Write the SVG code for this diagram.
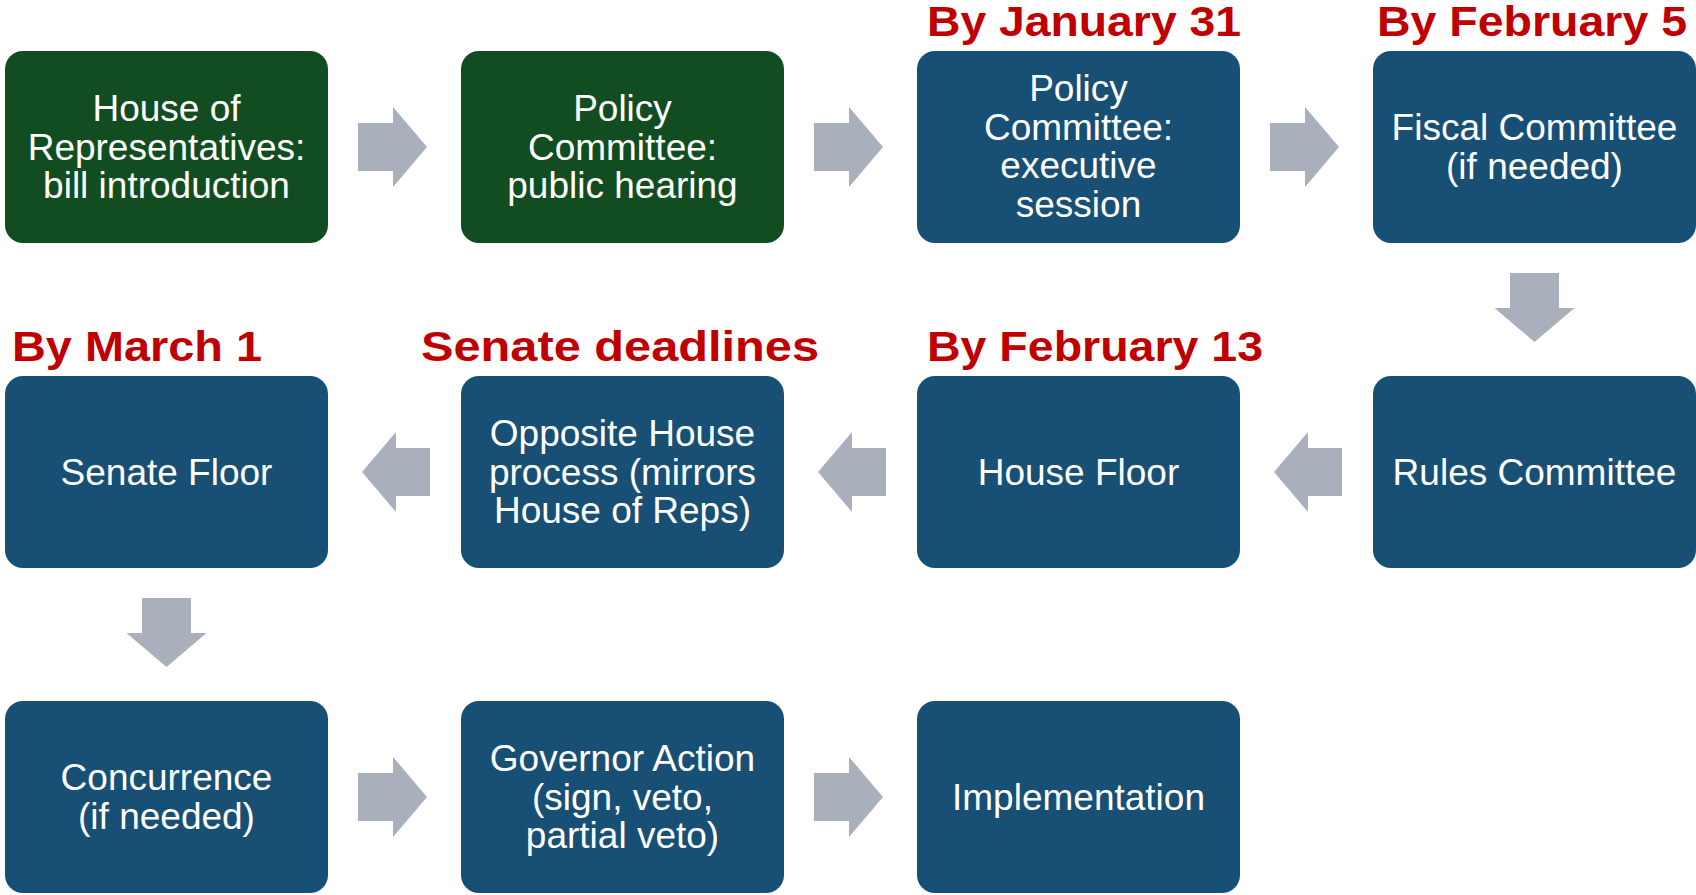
<svg xmlns="http://www.w3.org/2000/svg" width="1696" height="895" viewBox="0 0 1696 895">
<style>
.g{fill:#124d21}
.b{fill:#174f75}
.t{font-family:"Liberation Sans",Arial,sans-serif;font-size:37px;fill:#ffffff;text-anchor:middle}
.r{font-family:"Liberation Sans",Arial,sans-serif;font-weight:bold;font-size:43px;fill:#c00000}
.a{fill:#a9b0bb}
</style>
<defs>
<path id="ar" d="M0,-24 H35 V-40 L69,0 L35,40 V24 H0 Z"/>
<path id="al" d="M0,0 L34,-40 V-24 H68 V24 H34 V40 Z"/>
<path id="ad" d="M-24.5,0 H24.5 V35 H40 L0,69 L-40,35 H-24.5 Z"/>
</defs>
<rect width="1696" height="895" fill="#ffffff"/>
<g id="labels">
<text class="r" x="927" y="36" textLength="314" lengthAdjust="spacingAndGlyphs">By January 31</text>
<text class="r" x="1377" y="36" textLength="310" lengthAdjust="spacingAndGlyphs">By February 5</text>
<text class="r" x="12" y="361" textLength="250" lengthAdjust="spacingAndGlyphs">By March 1</text>
<text class="r" x="421" y="361" textLength="398" lengthAdjust="spacingAndGlyphs">Senate deadlines</text>
<text class="r" x="927" y="361" textLength="336" lengthAdjust="spacingAndGlyphs">By February 13</text>
</g>
<g id="connectors">
<use href="#ar" class="a" x="358" y="147"/>
<use href="#ar" class="a" x="814" y="147"/>
<use href="#ar" class="a" x="1270" y="147"/>
<use href="#ad" class="a" x="1534.5" y="273"/>
<use href="#al" class="a" x="1274" y="472"/>
<use href="#al" class="a" x="818" y="472"/>
<use href="#al" class="a" x="362" y="472"/>
<use href="#ad" class="a" x="166.5" y="598"/>
<use href="#ar" class="a" x="358" y="797"/>
<use href="#ar" class="a" x="814" y="797"/>
</g>
<g id="n1"><rect class="g" x="5" y="51" width="323" height="192" rx="18"/>
<text class="t" x="166.5" y="121"><tspan x="166.5">House of</tspan><tspan x="166.5" dy="38.5">Representatives:</tspan><tspan x="166.5" dy="38.5">bill introduction</tspan></text></g>
<g id="n2"><rect class="g" x="461" y="51" width="323" height="192" rx="18"/>
<text class="t" x="622.5" y="121"><tspan x="622.5">Policy</tspan><tspan x="622.5" dy="38.5">Committee:</tspan><tspan x="622.5" dy="38.5">public hearing</tspan></text></g>
<g id="n3"><rect class="b" x="917" y="51" width="323" height="192" rx="18"/>
<text class="t" x="1078.5" y="101"><tspan x="1078.5">Policy</tspan><tspan x="1078.5" dy="38.5">Committee:</tspan><tspan x="1078.5" dy="38.5">executive</tspan><tspan x="1078.5" dy="38.5">session</tspan></text></g>
<g id="n4"><rect class="b" x="1373" y="51" width="323" height="192" rx="18"/>
<text class="t" x="1534.5" y="140"><tspan x="1534.5">Fiscal Committee</tspan><tspan x="1534.5" dy="38.5">(if needed)</tspan></text></g>
<g id="n5"><rect class="b" x="1373" y="376" width="323" height="192" rx="18"/>
<text class="t" x="1534.5" y="485">Rules Committee</text></g>
<g id="n6"><rect class="b" x="917" y="376" width="323" height="192" rx="18"/>
<text class="t" x="1078.5" y="485">House Floor</text></g>
<g id="n7"><rect class="b" x="461" y="376" width="323" height="192" rx="18"/>
<text class="t" x="622.5" y="446"><tspan x="622.5">Opposite House</tspan><tspan x="622.5" dy="38.5">process (mirrors</tspan><tspan x="622.5" dy="38.5">House of Reps)</tspan></text></g>
<g id="n8"><rect class="b" x="5" y="376" width="323" height="192" rx="18"/>
<text class="t" x="166.5" y="485">Senate Floor</text></g>
<g id="n9"><rect class="b" x="5" y="701" width="323" height="192" rx="18"/>
<text class="t" x="166.5" y="790"><tspan x="166.5">Concurrence</tspan><tspan x="166.5" dy="38.5">(if needed)</tspan></text></g>
<g id="n10"><rect class="b" x="461" y="701" width="323" height="192" rx="18"/>
<text class="t" x="622.5" y="771"><tspan x="622.5">Governor Action</tspan><tspan x="622.5" dy="38.5">(sign, veto,</tspan><tspan x="622.5" dy="38.5">partial veto)</tspan></text></g>
<g id="n11"><rect class="b" x="917" y="701" width="323" height="192" rx="18"/>
<text class="t" x="1078.5" y="810">Implementation</text></g>
</svg>
